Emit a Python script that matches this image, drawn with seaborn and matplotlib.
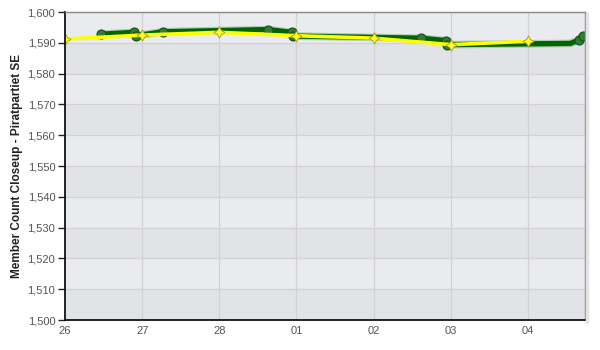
import numpy as np
import pandas as pd
import matplotlib
matplotlib.use("Agg")
import matplotlib.pyplot as plt
import matplotlib.dates as mdates
import seaborn as sns

# ---- data ----
start = pd.Timestamp("2011-02-26")
green_days = [0.47, 0.89, 0.92, 1.27, 2.63, 2.94, 2.95, 4.62, 4.94, 4.95, 6.55, 6.66, 6.71]
green_vals = [1592.8, 1593.4, 1592.3, 1593.6, 1594.3, 1593.4, 1592.2, 1591.5, 1590.7, 1589.4, 1589.8, 1590.9, 1592.2]
green_marker_idx = [0, 1, 2, 3, 4, 5, 6, 7, 8, 9, 11, 12]
yellow_days = [0, 1, 2, 3, 4, 5, 6]
yellow_vals = [1591.2, 1592.5, 1593.4, 1592.3, 1591.5, 1589.4, 1590.5]
x_tick_labels = ["26", "27", "28", "01", "02", "03", "04"]
y_label = "Member Count Closeup - Piratpartiet SE"

green_df = pd.DataFrame({"t": [start + pd.Timedelta(days=d) for d in green_days], "v": green_vals})
yellow_df = pd.DataFrame({"t": [start + pd.Timedelta(days=d) for d in yellow_days], "v": yellow_vals})

sns.set_theme(style="white")
plt.rcParams["font.family"] = ["Liberation Sans", "DejaVu Sans"]

fig = plt.figure(figsize=(6, 3.5), dpi=100)
ax = fig.add_axes([65 / 600, 1 - 320 / 350, 520 / 600, 308 / 350])

# alternating bands
for lo in range(1500, 1600, 10):
    col = "#e9ebee" if (lo // 10) % 2 == 1 else "#e2e3e6"
    ax.axhspan(lo, lo + 10, color=col, zorder=0, lw=0)

# grid
for lo in range(1510, 1600, 10):
    ax.axhline(lo, color="#d2d2d2", lw=0.9, zorder=1)
for i in range(1, 7):
    ax.axvline(start + pd.Timedelta(days=i), color="#d2d2d2", lw=0.9, zorder=1)

# green series
sns.lineplot(data=green_df, x="t", y="v", ax=ax, color="#4a9a4a", lw=5.5, alpha=0.35,
             sort=False, estimator=None, zorder=3)
sns.lineplot(data=green_df, x="t", y="v", ax=ax, color="#006400", lw=3.8,
             sort=False, estimator=None, zorder=4, marker="o", markevery=green_marker_idx,
             markersize=6.5, markerfacecolor="#2e7d32", markeredgecolor="#1b4d1b", markeredgewidth=0.8)

# yellow series
star4 = (4, 1, 0)
sns.lineplot(data=yellow_df, x="t", y="v", ax=ax, color="#ffff00", lw=2.6,
             sort=False, estimator=None, zorder=5, marker=star4, markersize=8,
             markerfacecolor="#ffff33", markeredgecolor="#a89a00", markeredgewidth=0.6)

ax.set_xlim(start, start + pd.Timedelta(days=6.74))
ax.set_ylim(1500, 1600)
ax.set_yticks(range(1500, 1601, 10))
ax.set_yticklabels([f"{v:,}" for v in range(1500, 1601, 10)])
ax.set_xticks([start + pd.Timedelta(days=d) for d in range(7)])
ax.set_xticklabels(x_tick_labels)

ax.tick_params(axis="y", left=True, length=5, width=1, color="#222222", labelsize=8,
               labelcolor="#555555", pad=2)
ax.tick_params(axis="x", bottom=False, length=0, labelsize=8, labelcolor="#555555", pad=4)
ax.set_xlabel("")
ax.set_ylabel(y_label, fontsize=8.5, fontweight="bold", color="#222222", labelpad=3)

ax.spines["left"].set_color("#111111")
ax.spines["left"].set_linewidth(1.3)
ax.spines["bottom"].set_color("#111111")
ax.spines["bottom"].set_linewidth(1.3)
ax.spines["top"].set_color("#888888")
ax.spines["top"].set_linewidth(1.0)
ax.spines["right"].set_color("#888888")
ax.spines["right"].set_linewidth(1.0)
for s in ax.spines.values():
    s.set_zorder(10)
    s.set_visible(True)

# right shadow
fig.add_artist(plt.Line2D([(586.5) / 600] * 2, [1 - 322 / 350, 1 - 14 / 350],
                          color="#e4e4e4", lw=2.5, transform=fig.transFigure))

fig.savefig("out.png", dpi=100)
